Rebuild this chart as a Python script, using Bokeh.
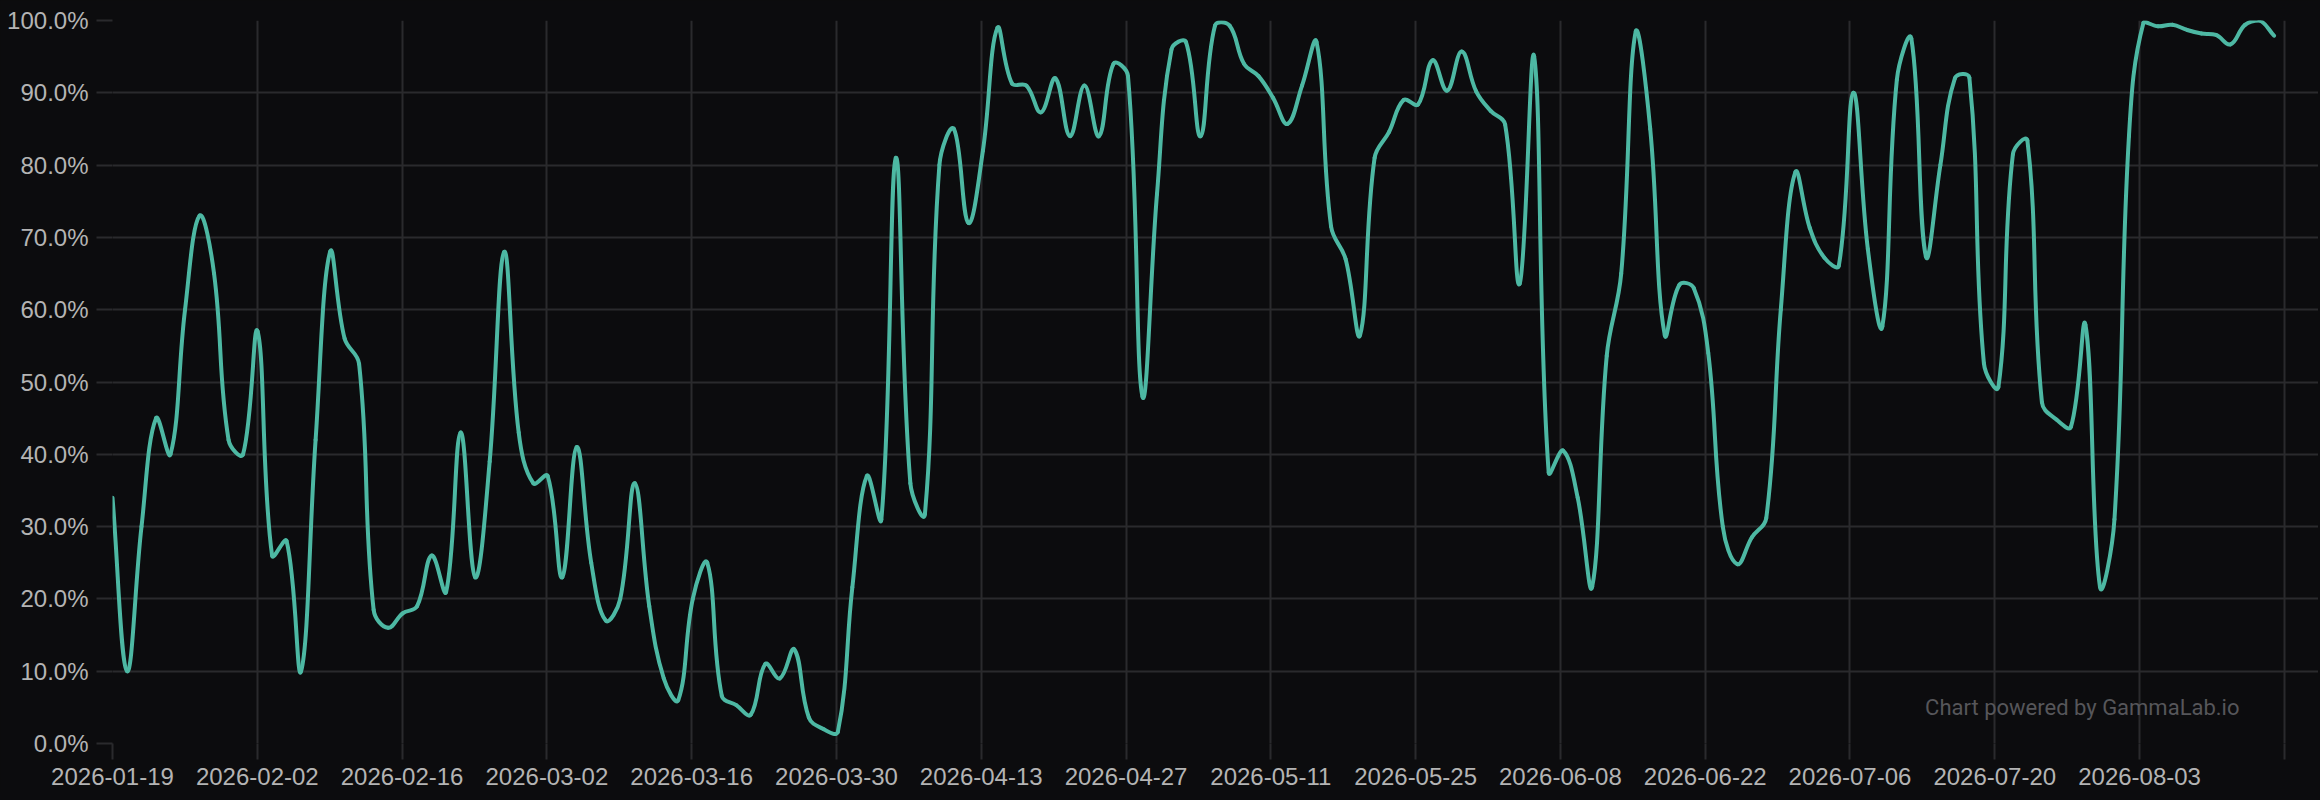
import numpy as np
import pandas as pd
from bokeh.plotting import figure
from bokeh.models import (ColumnDataSource, Range1d, FixedTicker, DatetimeTickFormatter,
                          PrintfTickFormatter, Label, GlobalInlineStyleSheet)
from bokeh.embed import file_html
from bokeh.resources import INLINE

# share in %, 150 samples evenly spaced between first_date and last_date
first_date = "2026-01-19"
last_date = "2026-08-16"
share = [34, 10, 30, 45, 40, 60, 73, 65, 42, 40,
         57, 26, 28, 10, 42, 68, 56, 52.5, 18.5, 16,
         18, 19, 26, 21, 43, 23, 39, 68, 43, 36,
         37, 23, 41, 25, 17, 20, 36, 19, 9, 6,
         20, 25, 6.6, 5.3, 4, 11, 9, 13, 3.6, 2,
         1.6, 21.6, 37, 31, 81, 36, 31.7, 80, 85, 72,
         82, 99, 91.3, 91, 87.3, 92, 84, 91, 84, 94,
         92.3, 48, 76, 96, 97, 84, 99.3, 99.3, 94, 92.3,
         89.3, 85.7, 91, 97, 71.5, 67, 56.5, 81, 84.6, 89,
         88.4, 94.5, 90.3, 95.7, 90.2, 87.5, 85.6, 63.6, 95, 37.5,
         40.5, 34, 21.7, 53.6, 65, 98.5, 85, 56.5, 63.4, 63,
         54, 30, 24.8, 28.5, 31.2, 60, 79, 71.3, 67.2, 66.1,
         90, 68.4, 57.7, 91.8, 97.5, 67.4, 80, 92, 92.1, 52.6,
         49.3, 81.5, 83.4, 47.2, 44.8, 43.8, 57.9, 21.7, 31, 84,
         99.7, 99.2, 99.4, 98.7, 98.2, 98, 96.7, 99.4, 100, 97.9]

tick_dates = ["2026-01-19", "2026-02-02", "2026-02-16", "2026-03-02", "2026-03-16",
              "2026-03-30", "2026-04-13", "2026-04-27", "2026-05-11", "2026-05-25",
              "2026-06-08", "2026-06-22", "2026-07-06", "2026-07-20", "2026-08-03",
              "2026-08-17"]
y_ticks = [0, 10, 20, 30, 40, 50, 60, 70, 80, 90, 100]

BG = "#0c0c0e"
GRID = "#2a2a2d"
TXT = "#b4b4b4"
LINE = "#4db8a3"
DAY = 86400000.0

def ms(s):
    return pd.Timestamp(s).value / 1e6

x = pd.date_range(first_date, last_date, periods=len(share)).values.astype("datetime64[ms]").astype(np.int64).astype(float)
y = np.array(share, dtype=float)

# smooth line like chart.js (tension 0.4), control points computed in pixel space
px_day, px_pct = 10.343, 7.23
t = 0.4
X = (x - x[0]) / DAY * px_day
Y = y * px_pct
n = len(X)
cp_prev = np.zeros((n, 2))
cp_next = np.zeros((n, 2))
for i in range(n):
    a = max(i - 1, 0)
    b = min(i + 1, n - 1)
    d01 = np.hypot(X[i] - X[a], Y[i] - Y[a])
    d12 = np.hypot(X[b] - X[i], Y[b] - Y[i])
    s01 = d01 / (d01 + d12) if d01 + d12 > 0 else 0
    s12 = d12 / (d01 + d12) if d01 + d12 > 0 else 0
    dx, dy = X[b] - X[a], Y[b] - Y[a]
    cp_prev[i] = (X[i] - t * s01 * dx, Y[i] - t * s01 * dy)
    cp_next[i] = (X[i] + t * s12 * dx, Y[i] + t * s12 * dy)

def to_x(v):
    return x[0] + v / px_day * DAY

def to_y(v):
    return np.clip(v / px_pct, 0, 100)

src = ColumnDataSource(dict(
    x0=x[:-1], y0=y[:-1], x1=x[1:], y1=y[1:],
    cx0=to_x(cp_next[:-1, 0]), cy0=to_y(cp_next[:-1, 1]),
    cx1=to_x(cp_prev[1:, 0]), cy1=to_y(cp_prev[1:, 1]),
))

p = figure(width=2318, height=792, x_axis_type="datetime",
           x_range=Range1d(ms(first_date), ms(first_date) + 213.3 * DAY),
           y_range=Range1d(0, 100),
           output_backend="svg", toolbar_location=None,
           min_border_left=112, min_border_right=0, min_border_top=20, min_border_bottom=49,
           background_fill_color=BG, border_fill_color=BG, outline_line_color=None)

p.bezier(x0="x0", y0="y0", x1="x1", y1="y1", cx0="cx0", cy0="cy0", cx1="cx1", cy1="cy1",
         source=src, line_color=LINE, line_width=4, line_cap="round")

tick_ms = [ms(d) for d in tick_dates]
p.xaxis.ticker = FixedTicker(ticks=tick_ms)
p.xaxis.formatter = DatetimeTickFormatter(days="%Y-%m-%d", months="%Y-%m-%d")
p.xaxis.major_label_overrides = {tick_ms[-1]: ""}
p.yaxis.ticker = FixedTicker(ticks=y_ticks)
p.yaxis.formatter = PrintfTickFormatter(format="%.1f%%")

for ax in (p.xaxis, p.yaxis):
    ax.axis_line_color = None
    ax.major_tick_in = 0
    ax.major_tick_out = 16
    ax.major_tick_line_color = GRID
    ax.major_tick_line_width = 2
    ax.minor_tick_line_color = None
    ax.major_label_text_font = "Liberation Sans"
    ax.major_label_text_font_size = "24px"
    ax.major_label_text_color = TXT
    ax.major_label_standoff = 8

p.xgrid.grid_line_color = GRID
p.ygrid.grid_line_color = GRID
p.xgrid.grid_line_width = 2
p.ygrid.grid_line_width = 2

p.add_layout(Label(x=2127, y=36, x_units="screen", y_units="screen",
                   text="Chart powered by GammaLab.io", text_font="Roboto",
                   text_font_size="22px", text_color="#56565a",
                   text_align="right", text_baseline="middle"))

p.stylesheets = [GlobalInlineStyleSheet(css="html, body { background-color: #0c0c0e; }")]

open("out.html", "w").write(file_html(p, INLINE))
